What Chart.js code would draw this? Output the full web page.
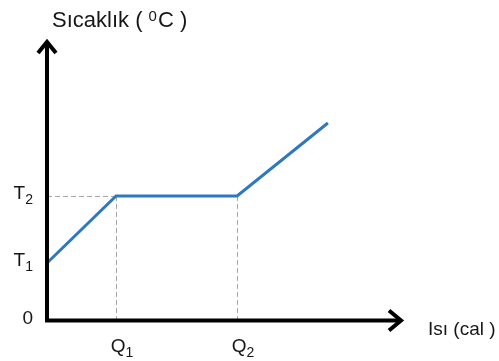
<!DOCTYPE html>
<html>
<head>
<meta charset="utf-8">
<title>Sıcaklık – Isı</title>
<script src="https://cdn.jsdelivr.net/npm/chart.js@4.4.1/dist/chart.umd.min.js"></script>
<style>
  html, body { margin: 0; padding: 0; background: #fff; }
  canvas { display: block; }
</style>
</head>
<body>
<canvas id="chart-heat" width="499" height="361"></canvas>
<script>
// Heating curve: temperature against heat added
var heatValues  = [0, 1.94, 5.34, 7.89];
var tempValues  = [2.05, 4.44, 4.44, 7.04];

var xTickValues = [1.94, 5.34];
var xTickMain   = ['Q', 'Q'];
var xTickSub    = ['1', '2'];

var yTickValues = [0, 2.05, 4.44];
var yTickMain   = ['0', 'T', 'T'];
var yTickSub    = ['', '1', '2'];

var xAxisTitle  = 'Isı (cal )';
var yAxisTitle  = ['Sıcaklık ( ', '0', 'C )'];

var FONT_FAMILY = '"Liberation Sans", Arial, sans-serif';
var TEXT_COLOR  = '#161616';

function font(px) { return px + 'px ' + FONT_FAMILY; }

// main letter with a smaller lowered index (T1, Q2 ...)
function drawIndexed(ctx, main, sub, x, y, align) {
  ctx.font = font(19);
  var wMain = ctx.measureText(main).width;
  ctx.font = font(14);
  var wSub = sub ? ctx.measureText(sub).width : 0;
  var start = x;
  if (align === 'right') start = x - wMain - wSub;
  if (align === 'center') start = x - wMain / 2;
  ctx.textAlign = 'left';
  ctx.textBaseline = 'alphabetic';
  ctx.font = font(19);
  ctx.fillText(main, start, y);
  if (sub) {
    ctx.font = font(14);
    ctx.fillText(sub, start + wMain, y + 5);
  }
}

var guidePlugin = {
  id: 'guides',
  beforeDatasetsDraw: function (chart) {
    var ctx = chart.ctx, xs = chart.scales.x, ys = chart.scales.y;
    var yT2 = ys.getPixelForValue(yTickValues[2]);
    var y0  = ys.getPixelForValue(0);
    ctx.save();
    ctx.strokeStyle = '#a6a6a6';
    ctx.lineWidth = 1;
    ctx.setLineDash([5, 3]);
    ctx.beginPath();
    ctx.moveTo(xs.getPixelForValue(0), yT2 + 0.5);
    ctx.lineTo(xs.getPixelForValue(xTickValues[0]), yT2 + 0.5);
    xTickValues.forEach(function (v) {
      var px = Math.round(xs.getPixelForValue(v)) + 0.5;
      ctx.moveTo(px, yT2);
      ctx.lineTo(px, y0);
    });
    ctx.stroke();
    ctx.restore();
  },
  afterDatasetsDraw: function (chart) {
    var ctx = chart.ctx, xs = chart.scales.x, ys = chart.scales.y;
    var area = chart.chartArea;
    var ox = xs.getPixelForValue(0), oy = ys.getPixelForValue(0);
    ctx.save();

    // axes with open arrow heads
    ctx.strokeStyle = '#000';
    ctx.lineWidth = 4;
    ctx.lineJoin = 'miter';
    ctx.lineCap = 'butt';
    ctx.beginPath();
    ctx.moveTo(ox, area.top + 2);
    ctx.lineTo(ox, oy);
    ctx.lineTo(area.right - 2, oy);
    ctx.stroke();

    ctx.beginPath();
    ctx.moveTo(ox - 9, area.top + 13);
    ctx.lineTo(ox, area.top + 2);
    ctx.lineTo(ox + 9, area.top + 13);
    ctx.moveTo(area.right - 14, oy - 10);
    ctx.lineTo(area.right - 2, oy);
    ctx.lineTo(area.right - 14, oy + 10);
    ctx.stroke();

    // tick labels
    ctx.fillStyle = TEXT_COLOR;
    yTickValues.forEach(function (v, i) {
      drawIndexed(ctx, yTickMain[i], yTickSub[i], ox - 14, ys.getPixelForValue(v) + 3, 'right');
    });
    xTickValues.forEach(function (v, i) {
      drawIndexed(ctx, xTickMain[i], xTickSub[i], xs.getPixelForValue(v) + 2, oy + 31, 'center');
    });

    // axis titles
    ctx.textAlign = 'left';
    ctx.textBaseline = 'alphabetic';
    ctx.font = font(19);
    ctx.fillText(xAxisTitle, area.right + 25, oy + 14);

    var tx = ox + 5, ty = 27;
    ctx.font = font(22);
    ctx.fillText(yAxisTitle[0], tx, ty);
    tx += ctx.measureText(yAxisTitle[0]).width;
    ctx.font = font(15);
    ctx.fillText(yAxisTitle[1], tx, ty - 6);
    tx += ctx.measureText(yAxisTitle[1]).width + 1;
    ctx.font = font(22);
    ctx.fillText(yAxisTitle[2], tx, ty);
    ctx.restore();
  }
};

var points = heatValues.map(function (x, i) { return { x: x, y: tempValues[i] }; });

new Chart(document.getElementById('chart-heat'), {
  type: 'line',
  data: {
    datasets: [{
      data: points,
      borderColor: '#2e78be',
      borderWidth: 3,
      pointRadius: 0,
      tension: 0,
      fill: false,
      clip: false
    }]
  },
  options: {
    responsive: false,
    animation: false,
    devicePixelRatio: 1,
    layout: { padding: { left: 47, top: 40, right: 96, bottom: 40.5 } },
    plugins: { legend: { display: false }, tooltip: { enabled: false } },
    scales: {
      x: { type: 'linear', min: 0, max: 10, display: false },
      y: { type: 'linear', min: 0, max: 10, display: false }
    }
  },
  plugins: [guidePlugin]
});
</script>
</body>
</html>
